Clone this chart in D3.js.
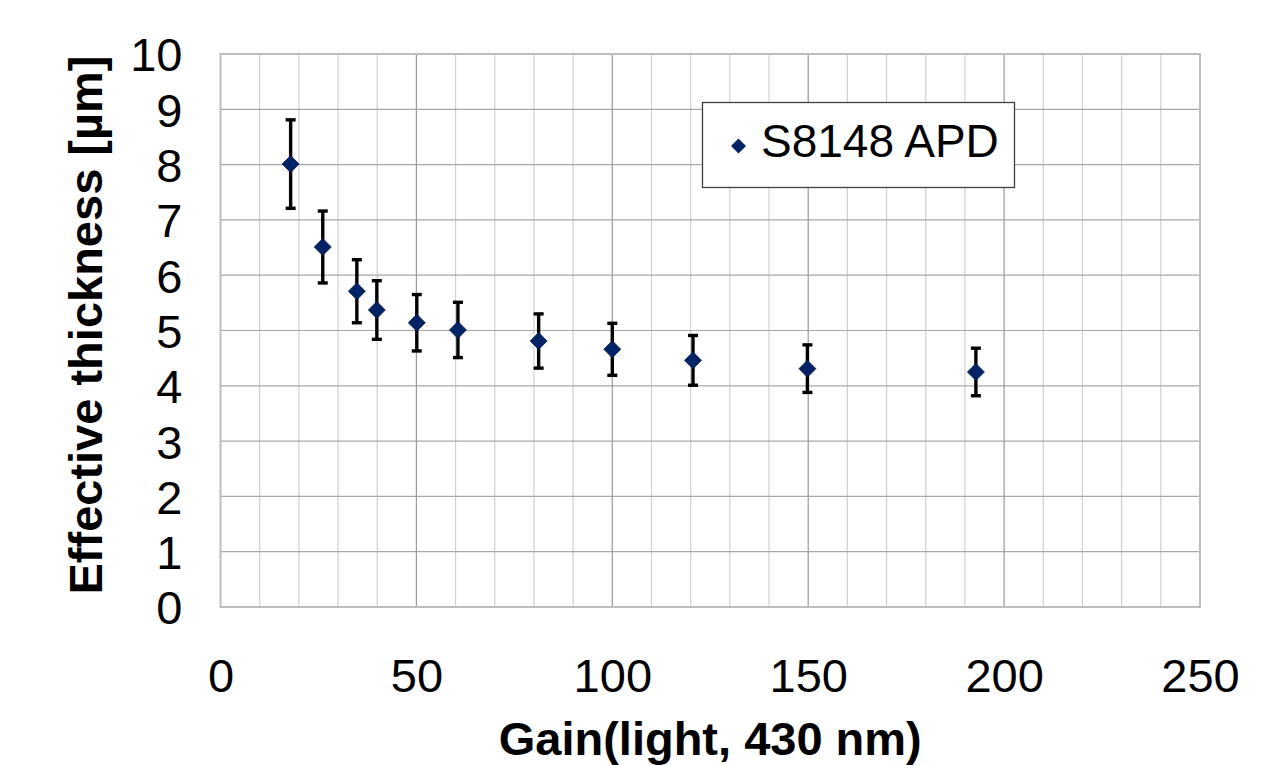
<!DOCTYPE html>
<html>
<head>
<meta charset="utf-8">
<script src="https://cdn.jsdelivr.net/npm/d3@7"></script>
<style>
  html, body { margin: 0; padding: 0; background: #fff; }
  svg { display: block; font-family: "Liberation Sans", Arial, sans-serif; }
</style>
</head>
<body>
<svg id="chart" width="1262" height="765"></svg>
<script>
// Measured effective thickness of an S8148 APD versus gain (430 nm light)
const gain      = [17.9, 26.1, 34.8, 39.9, 50.1, 60.6, 81.2, 100.0, 120.6, 149.8, 192.8];
const thickness = [8.01, 6.51, 5.71, 5.37, 5.14, 5.01, 4.81, 4.66, 4.46, 4.31, 4.25];
const errorBar  = [0.80, 0.65, 0.57, 0.53, 0.51, 0.50, 0.49, 0.47, 0.45, 0.43, 0.43];
const xTicks = [0, 50, 100, 150, 200, 250];
const yTicks = [0, 1, 2, 3, 4, 5, 6, 7, 8, 9, 10];
const seriesName = "S8148 APD";

const svg = d3.select("#chart");
const plot = { left: 220.5, right: 1200, top: 54, bottom: 607 };

const x = d3.scaleLinear().domain([0, 250]).range([plot.left, plot.right]);
const y = d3.scaleLinear().domain([0, 10]).range([plot.bottom, plot.top]);

svg.append("rect").attr("width", 1262).attr("height", 765).attr("fill", "#fff");

// grid: minor vertical lines every 10, major every 50, horizontal every 1
const g = svg.append("g");
g.selectAll("line.vminor").data(d3.range(10, 250, 10).filter(v => v % 50 !== 0))
  .join("line")
  .attr("x1", d => x(d)).attr("x2", d => x(d))
  .attr("y1", plot.top).attr("y2", plot.bottom)
  .attr("stroke", "#d0d0d0").attr("stroke-width", 1.2);
g.selectAll("line.h").data(yTicks.slice(1, -1))
  .join("line")
  .attr("x1", plot.left).attr("x2", plot.right)
  .attr("y1", d => y(d)).attr("y2", d => y(d))
  .attr("stroke", "#a8a8a8").attr("stroke-width", 1.2);
g.selectAll("line.vmajor").data(xTicks.slice(1, -1))
  .join("line")
  .attr("x1", d => x(d)).attr("x2", d => x(d))
  .attr("y1", plot.top).attr("y2", plot.bottom)
  .attr("stroke", "#999").attr("stroke-width", 1.2);

// plot frame
svg.append("rect")
  .attr("x", plot.left).attr("y", plot.top)
  .attr("width", plot.right - plot.left).attr("height", plot.bottom - plot.top)
  .attr("fill", "none").attr("stroke", "#bdbdbd").attr("stroke-width", 2);

// axes (labels only; ticks hidden)
const xAxis = svg.append("g")
  .attr("transform", `translate(0,${plot.bottom})`)
  .call(d3.axisBottom(x).tickValues(xTicks).tickSize(0).tickPadding(0));
xAxis.select(".domain").remove();
xAxis.selectAll("text")
  .attr("y", 85).attr("dy", null)
  .attr("font-size", 47).attr("fill", "#000")
  .attr("font-family", "'Liberation Sans', Arial, sans-serif");

const yAxis = svg.append("g")
  .attr("transform", `translate(${plot.left},0)`)
  .call(d3.axisLeft(y).tickValues(yTicks).tickSize(0).tickPadding(0));
yAxis.select(".domain").remove();
yAxis.selectAll("text")
  .attr("x", -38).attr("dy", "0.36em")
  .attr("font-size", 47).attr("fill", "#000")
  .attr("font-family", "'Liberation Sans', Arial, sans-serif");

// axis titles
svg.append("text")
  .attr("x", (plot.left + plot.right) / 2).attr("y", 755)
  .attr("text-anchor", "middle")
  .attr("font-size", 47).attr("font-weight", "bold")
  .text("Gain(light, 430 nm)");

svg.append("text")
  .attr("transform", `translate(102,325) rotate(-90)`)
  .attr("text-anchor", "middle")
  .attr("font-size", 47).attr("font-weight", "bold")
  .text("Effective thickness [µm]");

// error bars
const pts = gain.map((v, i) => ({ x: v, y: thickness[i], e: errorBar[i] }));
const eb = svg.append("g").attr("stroke", "#000").attr("stroke-width", 3.4);
eb.selectAll("line.stem").data(pts).join("line")
  .attr("x1", d => x(d.x)).attr("x2", d => x(d.x))
  .attr("y1", d => y(d.y + d.e)).attr("y2", d => y(d.y - d.e));
eb.selectAll("line.capTop").data(pts).join("line")
  .attr("x1", d => x(d.x) - 5).attr("x2", d => x(d.x) + 5)
  .attr("y1", d => y(d.y + d.e)).attr("y2", d => y(d.y + d.e));
eb.selectAll("line.capBot").data(pts).join("line")
  .attr("x1", d => x(d.x) - 5).attr("x2", d => x(d.x) + 5)
  .attr("y1", d => y(d.y - d.e)).attr("y2", d => y(d.y - d.e));

// diamond markers
const diamond = "M0,-8.5L8.5,0L0,8.5L-8.5,0Z";
svg.append("g").selectAll("path").data(pts).join("path")
  .attr("d", diamond)
  .attr("transform", d => `translate(${x(d.x)},${y(d.y)})`)
  .attr("fill", "#022466").attr("stroke", "#0b1a3d").attr("stroke-width", 0.8);

// legend
const lg = svg.append("g");
lg.append("rect")
  .attr("x", 702.5).attr("y", 102.5).attr("width", 312).attr("height", 85)
  .attr("fill", "#fff").attr("stroke", "#404040").attr("stroke-width", 1.3);
lg.append("path")
  .attr("d", "M0,-7.5L7.5,0L0,7.5L-7.5,0Z")
  .attr("transform", "translate(738.5,146)")
  .attr("fill", "#022466");
lg.append("text")
  .attr("x", 761).attr("y", 157)
  .attr("font-size", 46).attr("fill", "#000")
  .text(seriesName);
</script>
</body>
</html>
